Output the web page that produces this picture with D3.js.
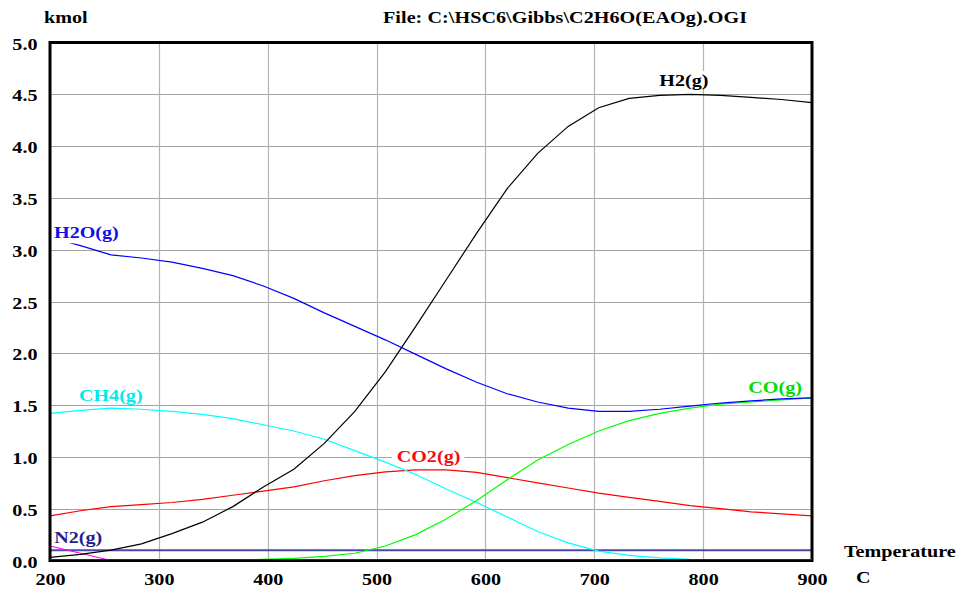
<!DOCTYPE html>
<html>
<head>
<meta charset="utf-8">
<script src="https://cdn.jsdelivr.net/npm/d3@7"></script>
<style>
  html, body { margin: 0; padding: 0; background: #fff; }
  svg { display: block; }
</style>
</head>
<body>
<script>
// Equilibrium composition (kmol) versus temperature (C)
const temperatures = [200, 228, 256, 284, 312, 340, 368, 396, 424, 452, 480, 508, 536,
                      564, 592, 620, 648, 676, 704, 732, 760, 788, 816, 844, 872, 900];

const h2 = [0.03, 0.06, 0.10, 0.16, 0.26, 0.37, 0.52, 0.71, 0.88, 1.13, 1.44, 1.82, 2.26,
            2.71, 3.16, 3.59, 3.93, 4.19, 4.37, 4.46, 4.49, 4.50, 4.49, 4.47, 4.45, 4.42];
const h2o = [3.12, 3.04, 2.95, 2.92, 2.88, 2.82, 2.75, 2.65, 2.53, 2.39, 2.26, 2.13, 1.99,
             1.85, 1.72, 1.61, 1.53, 1.47, 1.44, 1.44, 1.46, 1.49, 1.52, 1.54, 1.56, 1.57];
const co = [0, 0, 0, 0, 0, 0, 0.005, 0.01, 0.02, 0.04, 0.07, 0.14, 0.25,
            0.40, 0.58, 0.78, 0.97, 1.12, 1.25, 1.35, 1.42, 1.47, 1.51, 1.53, 1.55, 1.57];
const ch4 = [1.42, 1.45, 1.47, 1.46, 1.44, 1.41, 1.37, 1.31, 1.25, 1.17, 1.06, 0.95, 0.83,
             0.69, 0.56, 0.42, 0.28, 0.17, 0.09, 0.05, 0.025, 0.012, 0.006, 0.003, 0.002, 0.001];
const co2 = [0.43, 0.48, 0.52, 0.54, 0.56, 0.59, 0.63, 0.67, 0.71, 0.77, 0.82, 0.855, 0.875,
             0.875, 0.85, 0.80, 0.75, 0.70, 0.65, 0.61, 0.57, 0.53, 0.50, 0.47, 0.45, 0.43];
const n2 = [0.1, 0.1, 0.1, 0.1, 0.1, 0.1, 0.1, 0.1, 0.1, 0.1, 0.1, 0.1, 0.1,
            0.1, 0.1, 0.1, 0.1, 0.1, 0.1, 0.1, 0.1, 0.1, 0.1, 0.1, 0.1, 0.1];
const o2 = [0.14, 0.07, 0, 0, 0, 0, 0, 0, 0, 0, 0, 0, 0,
            0, 0, 0, 0, 0, 0, 0, 0, 0, 0, 0, 0, 0];
const minorA = [0, 0, 0, 0, 0, 0, 0, 0, 0, 0, 0, 0, 0,
                0, 0, 0, 0, 0, 0, 0, 0, 0, 0, 0, 0, 0];
const minorB = [0, 0, 0, 0, 0, 0, 0, 0, 0, 0, 0, 0, 0,
                0, 0, 0, 0, 0, 0, 0, 0, 0, 0, 0, 0, 0];

const xTicks = [200, 300, 400, 500, 600, 700, 800, 900];
const yTicks = [0.0, 0.5, 1.0, 1.5, 2.0, 2.5, 3.0, 3.5, 4.0, 4.5, 5.0];

// Species label text and anchor (temperature, kmol) of each label
const labelNames = ["H2O(g)", "CH4(g)", "CO2(g)", "N2(g)", "H2(g)", "CO(g)"];
const labelAt = [[203.7, 3.11], [226.6, 1.54], [518.5, 0.954], [203.9, 0.172], [759.7, 4.58], [841.5, 1.614]];

const W = 958, H = 590;
const M = { left: 50, right: 146, top: 42.5, bottom: 29.5 };
const SX = 1.15; // horizontal stretch of the bold serif lettering
const FONT = '"Liberation Serif", "Times New Roman", Tinos, serif';

const svg = d3.select("body").append("svg").attr("width", W).attr("height", H);

const x = d3.scaleLinear().domain([200, 900]).range([M.left, W - M.right]);
const y = d3.scaleLinear().domain([0, 5]).range([H - M.bottom, M.top]);

function styleText(sel, size) {
  return sel.style("font-family", FONT).style("font-weight", "bold")
    .style("font-size", (size || 17.5) + "px");
}

function txt(px, py, str, anchor, color, size) {
  return styleText(svg.append("text")
    .attr("transform", `translate(${px},${py}) scale(${SX},1)`)
    .attr("text-anchor", anchor || "start")
    .attr("fill", color || "#000"), size)
    .text(str);
}

// grid
const grid = svg.append("g");
grid.selectAll("line.h").data(yTicks.filter(v => v > 0 && v < 5)).join("line")
  .attr("x1", x(200)).attr("x2", x(900))
  .attr("y1", d => Math.round(y(d)) + 0.5).attr("y2", d => Math.round(y(d)) + 0.5)
  .attr("stroke", "#a4a4a4").attr("stroke-width", 1);
grid.selectAll("line.v").data(xTicks.filter(v => v > 200 && v < 900)).join("line")
  .attr("x1", d => Math.round(x(d)) + 0.5).attr("x2", d => Math.round(x(d)) + 0.5)
  .attr("y1", y(5)).attr("y2", y(0))
  .attr("stroke", "#b4b4b4").attr("stroke-width", 1.2);

// curves
const line = d3.line().x((d, i) => x(temperatures[i])).y(d => y(d));
const series = [
  { values: minorB, color: "#008000", width: 1.5 },
  { values: minorA, color: "#800000", width: 1.5 },
  { values: n2, color: "#4a4aa2", width: 2 },
  { values: o2, color: "#ff00ff", width: 1.2 },
  { values: co2, color: "#ff0000", width: 1.2 },
  { values: ch4, color: "#00ffff", width: 1.2 },
  { values: co, color: "#00ff00", width: 1.2 },
  { values: h2o, color: "#0000ff", width: 1.2 },
  { values: h2, color: "#000000", width: 1.2 }
];
svg.append("g").selectAll("path").data(series).join("path")
  .attr("d", d => line(d.values))
  .attr("fill", "none")
  .attr("stroke", d => d.color)
  .attr("stroke-width", d => d.width);

// species labels on white boxes
const labelColors = ["#1010e8", "#00eaea", "#f01010", "#23238a", "#000000", "#00dd00"];
labelNames.forEach((name, i) => {
  const px = x(labelAt[i][0]), py = y(labelAt[i][1]);
  const t = txt(px, py, name, "start", labelColors[i]);
  const w = t.node().getComputedTextLength() * SX;
  svg.insert("rect", () => t.node())
    .attr("x", Math.max(px - 5, x(200))).attr("y", py - 15)
    .attr("width", w + 9).attr("height", i === 0 ? 20 : 17)
    .attr("fill", "#fff");
});

// frame
svg.append("rect")
  .attr("x", x(200)).attr("y", y(5))
  .attr("width", x(900) - x(200)).attr("height", y(0) - y(5))
  .attr("fill", "none").attr("stroke", "#000").attr("stroke-width", 3);
svg.append("line")
  .attr("x1", x(200)).attr("x2", x(900)).attr("y1", y(0) - 1).attr("y2", y(0) - 1)
  .attr("stroke", "#6a1010").attr("stroke-width", 1.2);

// axes
const yAxis = svg.append("g").attr("transform", `translate(${M.left},0)`)
  .call(d3.axisLeft(y).tickValues(yTicks).tickFormat(d3.format(".1f")).tickSize(0));
yAxis.select(".domain").remove();
styleText(yAxis.selectAll("text")
  .attr("x", null).attr("dy", null)
  .attr("transform", `translate(-12.5,6.5) scale(${SX},1)`)
  .attr("text-anchor", "end").attr("fill", "#000"));

const xAxis = svg.append("g").attr("transform", `translate(0,${H - M.bottom})`)
  .call(d3.axisBottom(x).tickValues(xTicks).tickFormat(d3.format("d")).tickSize(0));
xAxis.select(".domain").remove();
styleText(xAxis.selectAll("text")
  .attr("y", null).attr("dy", null)
  .attr("transform", `translate(0,24.5) scale(${SX},1)`)
  .attr("text-anchor", "middle").attr("fill", "#000"));

// titles
txt(44, 23, "kmol");
const title = txt(383, 23, "File: C:\\HSC6\\Gibbs\\C2H6O(EAOg).OGI");
title.attr("textLength", 364 / SX).attr("lengthAdjust", "spacing");
txt(844, 557, "Temperature");
txt(856, 583, "C");
</script>
</body>
</html>
